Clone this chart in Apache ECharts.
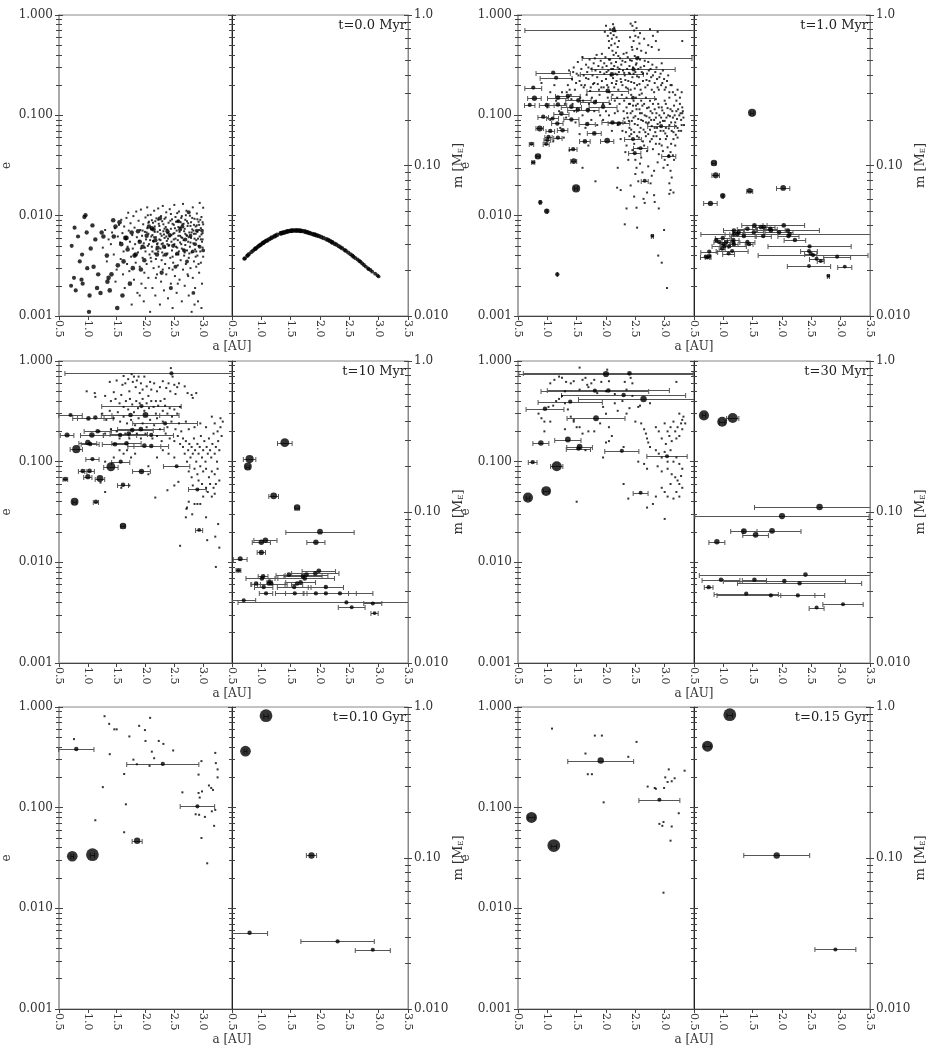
<!DOCTYPE html>
<html><head><meta charset="utf-8">
<script src="https://cdn.jsdelivr.net/npm/echarts@6/dist/echarts.min.js"></script>
<style>html,body{margin:0;padding:0;background:#fff}#c{width:931px;height:1048px}</style>
</head><body><div id="c"></div>
<script>
// ---------------- DATA ----------------
const TITLES = ['t=0.0 Myr','t=1.0 Myr','t=10 Myr','t=30 Myr','t=0.10 Gyr','t=0.15 Gyr'];
const A_MIN = 0.5, A_MAX = 3.5, A_STEP = 0.5;
const E_MIN = 0.001, E_MAX = 1, M_MIN = 0.01, M_MAX = 1;

// t = 0.0 Myr : embryos (a, e, m)
const P0_A = [0.71,0.72,0.76,0.77,0.79,0.83,0.86,0.89,0.90,0.91,0.94,0.96,0.98,0.99,1.02,1.03,1.05,1.08,1.10,1.13,1.16,1.18,1.22,1.24,1.27,1.33,1.34,1.36,1.38,1.41,1.44,1.45,1.48,1.51,1.52,1.55,1.58,1.60,1.62,1.65,1.67,1.69,1.73,1.76,1.78,1.81,1.83,1.87,1.90,1.92,1.95,1.98,2.02,2.06,2.11,2.14,2.17,2.20,2.21,2.25,2.28,2.32,2.35,2.38,2.42,2.44,2.48,2.52,2.55,2.57,2.60,2.64,2.67,2.69,2.72,2.75,2.78,2.82,2.83,2.86,2.89,2.94,2.98,3.00];
const P0_E = [0.0020,0.0050,0.0024,0.0076,0.0018,0.0062,0.0035,0.0023,0.0041,0.0021,0.0097,0.0101,0.0068,0.0030,0.0011,0.0016,0.0047,0.0080,0.0031,0.0058,0.0019,0.0026,0.0017,0.0068,0.0062,0.0040,0.0022,0.0024,0.0018,0.0026,0.0090,0.0062,0.0078,0.0012,0.0032,0.0086,0.0052,0.0016,0.0035,0.0060,0.0060,0.0046,0.0021,0.0068,0.0030,0.0040,0.0041,0.0070,0.0055,0.0029,0.0049,0.0036,0.0063,0.0078,0.0075,0.0073,0.0057,0.0041,0.0048,0.0094,0.0027,0.0049,0.0041,0.0070,0.0064,0.0019,0.0050,0.0031,0.0042,0.0088,0.0073,0.0078,0.0045,0.0058,0.0035,0.0108,0.0063,0.0044,0.0017,0.0052,0.0071,0.0049,0.0071,0.0045];
const P0_M = [0.0240,0.0242,0.0251,0.0253,0.0258,0.0266,0.0272,0.0278,0.0280,0.0282,0.0288,0.0292,0.0296,0.0298,0.0304,0.0306,0.0310,0.0315,0.0318,0.0323,0.0328,0.0332,0.0338,0.0341,0.0346,0.0354,0.0355,0.0357,0.0358,0.0361,0.0364,0.0365,0.0367,0.0368,0.0369,0.0370,0.0370,0.0370,0.0370,0.0369,0.0368,0.0367,0.0365,0.0362,0.0360,0.0357,0.0355,0.0351,0.0348,0.0346,0.0343,0.0340,0.0335,0.0330,0.0324,0.0320,0.0315,0.0310,0.0308,0.0302,0.0298,0.0291,0.0286,0.0281,0.0274,0.0271,0.0264,0.0257,0.0252,0.0248,0.0243,0.0237,0.0232,0.0229,0.0223,0.0218,0.0213,0.0207,0.0205,0.0202,0.0197,0.0191,0.0186,0.0183];
const P0_DUST = [[1.26,0.0048],[1.30,0.0072],[1.33,0.0035],[1.36,0.0058],[1.40,0.0052],[1.42,0.0068],[1.45,0.0041],[1.47,0.0075],[1.50,0.0029],[1.52,0.0062],[1.54,0.0081],[1.48,0.0022],
[1.56,0.0054],[1.57,0.0037],[1.58,0.0091],[1.60,0.0067],[1.61,0.0026],[1.62,0.0044],[1.63,0.0078],[1.64,0.0019],[1.66,0.0058],[1.67,0.0095],[1.68,0.0033],[1.69,0.0049],[1.70,0.0107],[1.71,0.0071],[1.72,0.0028],[1.73,0.0055],[1.74,0.0084],[1.75,0.0039],[1.76,0.0013],[1.77,0.0064],[1.78,0.0047],[1.79,0.0099],[1.80,0.0023],[1.81,0.0076],[1.82,0.0052],[1.83,0.0034],[1.84,0.0110],[1.85,0.0061],[1.86,0.0017],[1.87,0.0043],
[1.88,0.0089],[1.89,0.0056],[1.90,0.0031],[1.91,0.0072],[1.92,0.0047],[1.92,0.0115],[1.93,0.0021],[1.94,0.0063],[1.95,0.0038],[1.96,0.0082],[1.97,0.0053],[1.97,0.0014],[1.98,0.0027],[1.99,0.0069],[2.00,0.0096],[2.00,0.0044],[2.01,0.0058],[2.02,0.0033],[2.03,0.0121],[2.03,0.0075],[2.04,0.0050],[2.05,0.0024],[2.05,0.0066],[2.06,0.0087],[2.07,0.0041],[2.08,0.0011],[2.08,0.0057],[2.09,0.0102],[2.10,0.0035],[2.10,0.0073],[2.11,0.0049],[2.12,0.0019],[2.12,0.0064],[2.13,0.0085],[2.14,0.0030],[2.14,0.0055],[2.15,0.0112],[2.16,0.0042],[2.16,0.0078],[2.17,0.0016],[2.18,0.0061],[2.18,0.0037],[2.19,0.0094],[2.20,0.0052],[2.20,0.0026],
[2.21,0.0069],[2.22,0.0118],[2.22,0.0044],[2.23,0.0083],[2.23,0.0031],[2.24,0.0058],[2.25,0.0013],[2.25,0.0072],[2.26,0.0047],[2.27,0.0099],[2.27,0.0022],[2.28,0.0063],[2.28,0.0036],[2.29,0.0088],[2.30,0.0053],[2.30,0.0125],[2.31,0.0040],[2.31,0.0070],[2.32,0.0018],[2.33,0.0060],[2.33,0.0093],[2.34,0.0033],[2.34,0.0048],[2.35,0.0077],[2.36,0.0026],[2.36,0.0108],[2.37,0.0056],[2.38,0.0042],[2.38,0.0067],[2.39,0.0015],[2.40,0.0085],[2.40,0.0050],[2.41,0.0030],[2.42,0.0062],[2.42,0.0116],[2.43,0.0038],[2.44,0.0074],[2.44,0.0021],[2.45,0.0055],[2.46,0.0092],[2.46,0.0045],[2.47,0.0012],[2.48,0.0066],[2.48,0.0034],[2.49,0.0081],[2.50,0.0052],[2.50,0.0128],[2.51,0.0025],[2.52,0.0059],[2.52,0.0097],[2.53,0.0041],[2.54,0.0071],[2.54,0.0017],[2.55,0.0048],[2.56,0.0088],[2.56,0.0032],[2.57,0.0063],[2.58,0.0110],[2.58,0.0044],[2.59,0.0023],[2.60,0.0076],[2.60,0.0054],
[2.61,0.0036],[2.62,0.0095],[2.62,0.0061],[2.63,0.0014],[2.63,0.0047],[2.64,0.0082],[2.65,0.0029],[2.65,0.0131],[2.66,0.0057],[2.67,0.0040],[2.67,0.0070],[2.68,0.0020],[2.69,0.0091],[2.69,0.0051],[2.70,0.0033],[2.71,0.0064],[2.71,0.0112],[2.72,0.0045],[2.73,0.0026],[2.73,0.0079],[2.74,0.0055],[2.75,0.0016],[2.75,0.0038],[2.76,0.0068],[2.77,0.0100],[2.77,0.0049],[2.78,0.0030],[2.79,0.0060],[2.79,0.0086],[2.80,0.0011],[2.80,0.0043],[2.81,0.0073],[2.82,0.0024],[2.82,0.0121],[2.83,0.0053],[2.84,0.0035],[2.84,0.0066],[2.85,0.0093],[2.86,0.0046],[2.86,0.0019],[2.87,0.0078],[2.88,0.0057],[2.88,0.0031],[2.89,0.0105],[2.90,0.0040],[2.90,0.0069],[2.91,0.0014],[2.92,0.0050],[2.92,0.0087],[2.93,0.0027],[2.94,0.0062],[2.94,0.0134],[2.95,0.0044],[2.96,0.0075],[2.96,0.0034],[2.97,0.0097],[2.98,0.0055],[2.98,0.0021],[2.99,0.0067],[3.00,0.0039],[3.00,0.0082],[3.00,0.0120],[2.99,0.0048],[2.97,0.0012],
[2.02,0.0068],[2.06,0.0052],[2.11,0.0090],[2.15,0.0061],[2.19,0.0046],[2.24,0.0079],[2.26,0.0057],[2.29,0.0043],[2.32,0.0065],[2.35,0.0096],[2.37,0.0073],[2.41,0.0051],[2.43,0.0089],[2.45,0.0064],[2.47,0.0039],[2.49,0.0058],[2.51,0.0075],[2.53,0.0049],[2.55,0.0106],[2.57,0.0041],[2.59,0.0069],[2.61,0.0086],[2.64,0.0060],[2.66,0.0046],[2.68,0.0074],[2.70,0.0101],[2.72,0.0063],[2.74,0.0084],[2.76,0.0042],[2.78,0.0054],[2.81,0.0095],[2.83,0.0071],[2.85,0.0059],[2.87,0.0039],[2.89,0.0080],[2.91,0.0059],[2.93,0.0072],[2.95,0.0091],[2.97,0.0065],[2.99,0.0058],[1.95,0.0071],[1.99,0.0048],[2.04,0.0101],[2.09,0.0038],[2.13,0.0056],[2.17,0.0088],[2.21,0.0053],[2.31,0.0082],[2.39,0.0059],[2.57,0.0077],
[2.05,0.0085],[2.10,0.0062],[2.16,0.0069],[2.22,0.0091],[2.26,0.0066],[2.33,0.0074],[2.36,0.0062],[2.40,0.0068],[2.44,0.0104],[2.47,0.0083],[2.50,0.0067],[2.53,0.0087],[2.56,0.0057],[2.60,0.0063],[2.63,0.0099],[2.66,0.0083],[2.69,0.0066],[2.72,0.0088],[2.75,0.0061],[2.78,0.0079],[2.80,0.0068],[2.84,0.0081],[2.87,0.0066],[2.90,0.0092],[2.93,0.0081],[2.96,0.0058],[2.99,0.0086],[2.62,0.0052],[2.38,0.0052],[2.28,0.0052],[2.68,0.0043],[2.88,0.0044],[2.12,0.0044],[2.47,0.0029],[2.74,0.0025],[2.92,0.0033],[2.56,0.0021],[2.30,0.0029],[2.18,0.0024],[2.00,0.0019],[1.90,0.0016],[2.85,0.0013]];

// t = 1.0 Myr
const P1_A = [2.13,2.53,2.47,2.10,1.10,1.15,0.76,0.78,0.70,1.18,1.35,1.18,0.99,1.53,1.81,2.03,2.46,1.41,1.52,1.69,1.95,2.11,2.22,1.24,0.93,1.09,1.41,0.87,1.17,1.05,1.26,1.68,1.80,1.02,1.18,1.00,0.98,0.73,1.64,2.02,2.46,2.59,2.49,1.44,2.94,3.07,0.84,0.76,1.45,1.49,0.88,0.99,1.17,2.66,2.79];
const P1_E = [0.71,0.37,0.287,0.256,0.266,0.237,0.189,0.148,0.127,0.150,0.156,0.128,0.127,0.141,0.135,0.175,0.15,0.122,0.114,0.113,0.122,0.085,0.083,0.104,0.097,0.093,0.091,0.074,0.083,0.070,0.071,0.082,0.066,0.061,0.060,0.057,0.052,0.052,0.055,0.056,0.058,0.047,0.042,0.046,0.078,0.039,0.039,0.034,0.035,0.0187,0.0136,0.0111,0.0026,0.0223,0.0063];
const P1_M = [0.035,0.0254,0.029,0.037,0.029,0.027,0.0268,0.056,0.0248,0.037,0.034,0.035,0.033,0.040,0.037,0.040,0.0215,0.038,0.036,0.039,0.036,0.034,0.032,0.035,0.031,0.026,0.031,0.086,0.032,0.031,0.036,0.034,0.038,0.029,0.030,0.030,0.028,0.0245,0.039,0.071,0.027,0.024,0.026,0.030,0.0248,0.0213,0.104,0.025,0.068,0.224,0.032,0.063,0.031,0.0232,0.0185];
const P1_DUST = [[2.0,0.78],[2.03,0.62],[2.05,0.55],[2.07,0.72],[2.08,0.66],[2.10,0.58],[2.12,0.81],[2.13,0.63],[2.15,0.52],[2.16,0.69],[2.18,0.6],[2.2,0.48],[2.05,0.47],[2.11,0.44],[2.17,0.42],[2.22,0.55],[1.98,0.68],[2.14,0.75],[2.09,0.5],
[2.42,0.82],[2.45,0.78],[2.48,0.7],[2.5,0.62],[2.52,0.74],[2.47,0.55],[2.55,0.6],[2.57,0.52],[2.44,0.48],[2.53,0.46],[2.58,0.66],[2.6,0.44],[2.5,0.85],[2.41,0.6],
[2.75,0.72],[2.8,0.62],[2.85,0.55],[2.88,0.68],[2.72,0.5],[2.9,0.45],[2.78,0.48],[3.3,0.55],[2.65,0.58],[2.68,0.42],
[1.45,0.3],[1.5,0.26],[1.52,0.34],[1.55,0.22],[1.58,0.29],[1.6,0.38],[1.62,0.25],[1.64,0.2],[1.66,0.32],[1.68,0.27],[1.7,0.23],[1.72,0.36],[1.74,0.19],[1.75,0.29],[1.77,0.25],[1.79,0.33],[1.8,0.21],[1.82,0.28],[1.84,0.4],[1.85,0.24],[1.87,0.31],[1.88,0.18],[1.9,0.27],[1.91,0.35],[1.93,0.22],[1.94,0.3],[1.96,0.19],[1.97,0.26],[1.99,0.38],[2.0,0.23],[2.01,0.31],[2.02,0.2],[2.04,0.28],[2.05,0.36],[2.06,0.17],[2.08,0.25],[2.09,0.33],[2.1,0.21],[2.12,0.29],[2.13,0.4],[2.14,0.19],[2.16,0.26],[2.17,0.34],[2.18,0.22],[2.2,0.3],[2.21,0.18],[2.22,0.27],[2.24,0.37],[2.25,0.23],[2.26,0.32],[2.28,0.2],[2.29,0.28],[2.3,0.41],[2.32,0.25],[2.33,0.34],[2.34,0.19],[2.36,0.29],[2.37,0.38],[2.38,0.22],[2.4,0.31],[2.41,0.26],[2.42,0.18],[2.44,0.35],[2.45,0.24],[2.46,0.3],[2.48,0.21],[2.49,0.39],[2.5,0.27],[2.52,0.33],[2.53,0.2],[2.55,0.29],[2.56,0.24],[2.58,0.36],[2.59,0.18],[2.61,0.27],[2.63,0.22],[2.65,0.31],[2.67,0.19],[2.7,0.26],[2.72,0.34],[2.74,0.22],[2.76,0.29],[2.78,0.18],[2.8,0.25],[2.83,0.21],[2.86,0.3],[2.88,0.19],[2.91,0.24],[2.94,0.2],[2.97,0.28],[3.0,0.18],[3.04,0.22],[3.08,0.17],[3.12,0.2],[2.95,0.33],[1.35,0.2],[1.4,0.16],[1.42,0.23],[1.47,0.18],[1.3,0.13],[1.25,0.17],[1.56,0.15],[1.61,0.14],[1.67,0.16],[1.71,0.13],[1.76,0.15],[1.83,0.14],[1.89,0.16],[1.95,0.13],[2.03,0.15],[2.07,0.13],[2.11,0.16],[2.15,0.14],[2.19,0.15],[2.23,0.13],[2.27,0.16],[2.31,0.14],[2.35,0.15],[2.39,0.13],[2.43,0.16],[2.47,0.14],[2.51,0.15],[2.54,0.13],[2.57,0.16],[2.6,0.14],
[2.3,0.11],[2.32,0.085],[2.35,0.12],[2.37,0.095],[2.4,0.075],[2.42,0.105],[2.44,0.088],[2.46,0.125],[2.48,0.068],[2.5,0.098],[2.52,0.115],[2.54,0.08],[2.56,0.06],[2.58,0.105],[2.6,0.09],[2.62,0.125],[2.64,0.072],[2.66,0.1],[2.68,0.085],[2.7,0.118],[2.72,0.065],[2.74,0.095],[2.76,0.11],[2.78,0.078],[2.8,0.13],[2.82,0.09],[2.84,0.068],[2.86,0.105],[2.88,0.082],[2.9,0.12],[2.92,0.058],[2.94,0.095],[2.96,0.112],[2.98,0.07],[3.0,0.088],[3.02,0.13],[3.04,0.062],[3.06,0.1],[3.08,0.08],[3.1,0.115],[3.12,0.07],[3.14,0.095],[3.16,0.125],[3.18,0.085],[3.2,0.11],[3.22,0.075],[3.25,0.1],[3.28,0.09],[3.3,0.12],[3.32,0.095],[3.15,0.058],[3.05,0.048],[3.1,0.043],[2.95,0.05],[2.9,0.041],[2.85,0.052],[2.8,0.046],[2.75,0.055],[2.7,0.044],[2.65,0.05],[2.6,0.038],[2.55,0.047],[2.5,0.036],[2.45,0.045],[3.0,0.036],[3.05,0.032],[3.1,0.028],[3.12,0.024],[3.08,0.021],[3.1,0.018],[3.15,0.017],[2.98,0.03],[2.88,0.034],[2.82,0.028],[2.78,0.025],[2.72,0.031],[2.62,0.027],[2.58,0.033],[2.52,0.03],[2.4,0.062],[2.35,0.05],[2.28,0.07],[2.25,0.058],[2.2,0.08],[2.33,0.043],[2.38,0.036],[2.85,0.145],[2.75,0.14],[2.68,0.15],[3.0,0.14],[3.08,0.15],[3.2,0.14],[3.26,0.13],[3.3,0.105],[3.33,0.08],[3.28,0.07],[3.22,0.06],[3.18,0.05],[3.14,0.04],[3.02,0.075],[2.92,0.085],[2.83,0.075],[2.73,0.085],
[1.05,0.09],[1.1,0.055],[1.15,0.14],[1.2,0.11],[1.22,0.075],[1.28,0.06],[1.32,0.095],[1.38,0.045],[1.43,0.13],[1.48,0.085],[1.55,0.065],[1.6,0.1],[1.65,0.075],[1.7,0.05],[1.75,0.09],[1.8,0.11],[1.85,0.08],[1.9,0.1],[1.95,0.09],[2.0,0.11],[2.05,0.1],[2.1,0.07],[2.15,0.105],[2.2,0.11],[1.12,0.2],[1.05,0.17],[0.9,0.21],[1.0,0.12],[1.38,0.18],[1.46,0.11],
[2.32,0.0082],[2.35,0.0118],[2.52,0.012],[2.53,0.0076],[2.48,0.0155],[2.42,0.02],[2.64,0.0147],[2.66,0.0134],[2.82,0.016],[2.83,0.0137],[2.9,0.0118],[2.99,0.0072],[2.89,0.0040],[2.95,0.0034],[3.04,0.0019],[2.19,0.019],[1.82,0.022],[2.25,0.018],[2.7,0.017],[2.55,0.022],[3.08,0.0165],[2.76,0.021],[2.5,0.026],[2.2,0.03],[1.6,0.03],
[1.93,0.41],[1.97,0.33],[2.01,0.27],[2.04,0.19],[2.07,0.36],[2.09,0.29],[2.12,0.235],[2.14,0.31],[2.17,0.205],[2.19,0.255],[2.21,0.39],[2.23,0.29],[2.26,0.215],[2.28,0.35],[2.31,0.265],[2.33,0.225],[2.35,0.42],[2.37,0.185],[2.39,0.265],[2.41,0.355],[2.43,0.215],[2.45,0.45],[2.47,0.26],[2.49,0.185],[2.51,0.32],[2.53,0.245],[2.55,0.38],[2.57,0.205],[2.59,0.3],[2.61,0.165],[2.63,0.26],[2.66,0.35],[2.69,0.225],[2.71,0.2],[2.73,0.28],[2.77,0.24],[2.79,0.32],[2.82,0.17],[2.84,0.27],[2.87,0.23],[2.9,0.18],[2.93,0.26],[2.96,0.21],[2.99,0.23],[3.02,0.19],[3.06,0.25],[3.1,0.2],[3.14,0.17],[3.18,0.16],[3.22,0.18],[3.26,0.15],[3.29,0.17],
[2.31,0.093],[2.34,0.068],[2.36,0.105],[2.39,0.088],[2.41,0.13],[2.43,0.072],[2.45,0.11],[2.47,0.095],[2.49,0.082],[2.51,0.125],[2.53,0.062],[2.55,0.092],[2.57,0.115],[2.59,0.075],[2.61,0.105],[2.63,0.088],[2.65,0.13],[2.67,0.068],[2.69,0.098],[2.71,0.083],[2.73,0.12],[2.75,0.072],[2.77,0.09],[2.79,0.105],[2.81,0.062],[2.83,0.115],[2.85,0.095],[2.87,0.075],[2.89,0.13],[2.91,0.1],[2.93,0.07],[2.95,0.12],[2.97,0.088],[2.99,0.105],[3.01,0.066],[3.03,0.095],[3.05,0.118],[3.07,0.074],[3.09,0.098],[3.11,0.085],[3.13,0.11],[3.15,0.068],[3.17,0.1],[3.19,0.078],[3.21,0.092],[3.23,0.115],[3.24,0.07],[3.27,0.105],[3.29,0.08],[3.31,0.11],
[2.86,0.062],[2.91,0.052],[2.97,0.044],[3.02,0.058],[3.07,0.04],[3.11,0.052],[3.16,0.036],[3.19,0.064],[2.78,0.058],[2.68,0.062],[2.63,0.055],[2.57,0.068],[2.48,0.052],[2.43,0.065],
[1.62,0.19],[1.66,0.235],[1.7,0.3],[1.73,0.175],[1.78,0.205],[1.81,0.37],[1.86,0.205],[1.92,0.19],[1.58,0.2],[1.53,0.25],[1.49,0.21],[1.44,0.27],[1.41,0.145],[1.37,0.28],[1.33,0.17]];

// t = 10 Myr
const P2_A = [1.40,0.80,0.77,1.21,1.61,2.00,1.07,1.00,1.93,1.00,0.64,0.61,2.45,1.93,1.74,0.70,1.01,1.13,2.34,1.92,1.77,1.17,1.56,2.10,1.71,1.04,1.47,1.67,1.98,2.10,1.08,1.57,2.54,0.91,1.03,2.90,1.14,2.93,1.61];
const P2_E = [0.089,0.133,0.040,0.068,0.023,0.291,0.184,0.155,0.080,0.071,0.184,0.067,0.754,0.357,0.291,0.291,0.269,0.274,0.24,0.21,0.206,0.20,0.184,0.184,0.19,0.15,0.149,0.152,0.144,0.143,0.106,0.10,0.09,0.081,0.081,0.053,0.040,0.021,0.059];
const P2_M = [0.288,0.224,0.200,0.128,0.107,0.074,0.065,0.063,0.063,0.054,0.049,0.041,0.0252,0.0289,0.0363,0.026,0.0363,0.0336,0.0289,0.0392,0.0385,0.0336,0.0319,0.0289,0.0375,0.0319,0.0385,0.0343,0.0408,0.0319,0.0289,0.0289,0.0234,0.0336,0.0375,0.0248,0.0346,0.0214,0.0336];
const P2_DUST = [[1.38,0.62],[1.5,0.64],[1.45,0.49],[0.98,0.5],[1.12,0.48],[1.13,0.44],[1.6,0.58],[1.62,0.71],[1.65,0.6],[1.7,0.66],[1.72,0.5],[1.76,0.74],[1.78,0.62],[1.8,0.7],[1.83,0.55],[1.85,0.64],[1.88,0.7],[1.9,0.48],[1.92,0.6],[1.95,0.52],[1.98,0.7],[2.02,0.56],[2.05,0.45],[2.08,0.62],[2.1,0.52],[2.15,0.6],[2.18,0.4],[2.2,0.5],[2.25,0.55],[2.3,0.63],[2.33,0.42],[2.36,0.54],[2.4,0.6],[2.43,0.5],[2.44,0.85],[2.47,0.7],[2.5,0.58],[2.52,0.47],[2.55,0.55],[2.58,0.6],[2.68,0.56],[2.73,0.48],[2.82,0.43],[2.88,0.48],[2.8,0.46],
[1.3,0.45],[1.4,0.4],[1.48,0.42],[1.55,0.38],[1.58,0.46],[1.62,0.35],[1.66,0.4],[1.7,0.33],[1.73,0.42],[1.77,0.37],[1.8,0.31],[1.84,0.4],[1.87,0.34],[1.9,0.38],[1.95,0.42],[1.98,0.32],[2.02,0.38],[2.06,0.34],[2.1,0.4],[2.14,0.35],[2.18,0.3],[2.22,0.36],[2.26,0.4],[2.3,0.32],[2.34,0.36],[2.38,0.3],[2.42,0.34],[2.46,0.28],[2.5,0.33],[2.55,0.3],[2.6,0.35],[1.25,0.3],[1.32,0.26],[1.38,0.32],[1.45,0.27],[1.52,0.31],[1.56,0.25],[1.62,0.28],[1.68,0.24],[1.75,0.26],[1.82,0.23],[1.88,0.27],[1.95,0.24],[2.02,0.22],[2.08,0.26],[2.15,0.23],[2.2,0.27],[2.25,0.21],[2.3,0.25],[2.38,0.22],[2.45,0.25],[2.52,0.21],[2.58,0.24],[2.62,0.2],[1.2,0.2],[1.3,0.19],[1.4,0.21],[1.5,0.2],[1.55,0.17],[1.65,0.19],[1.72,0.17],[1.85,0.19],[1.92,0.17],[2.0,0.19],[2.12,0.17],[2.2,0.18],[2.28,0.16],[2.35,0.19],[2.42,0.17],[2.5,0.16],[2.56,0.18],[2.6,0.15],[2.65,0.17],
[1.3,0.1],[1.45,0.11],[1.55,0.13],[1.62,0.12],[1.68,0.13],[1.75,0.11],[1.82,0.12],[2.05,0.09],[2.2,0.11],[2.3,0.13],[2.4,0.12],[2.5,0.11],[1.3,0.05],[1.22,0.062],[1.58,0.055],[1.72,0.058],[2.05,0.075],[2.5,0.058],[2.57,0.063],[2.17,0.044],[2.38,0.052],[2.6,0.0146],
[2.65,0.14],[2.68,0.12],[2.7,0.16],[2.72,0.1],[2.74,0.13],[2.76,0.15],[2.78,0.11],[2.8,0.14],[2.82,0.12],[2.84,0.17],[2.86,0.13],[2.88,0.1],[2.9,0.15],[2.92,0.12],[2.94,0.14],[2.96,0.18],[2.98,0.11],[3.0,0.13],[3.02,0.16],[3.04,0.1],[3.06,0.14],[3.08,0.12],[3.1,0.17],[3.12,0.13],[3.14,0.11],[3.16,0.15],[3.18,0.19],[3.2,0.12],[3.22,0.14],[3.24,0.1],[3.26,0.16],[3.28,0.13],[3.3,0.22],[3.32,0.18],[3.34,0.25],[3.3,0.27],[3.25,0.2],[3.2,0.24],[3.15,0.28],[3.05,0.22],[2.95,0.24],[2.85,0.22],[2.75,0.21],[2.7,0.25],
[2.75,0.08],[2.8,0.07],[2.85,0.085],[2.9,0.075],[2.95,0.09],[3.0,0.08],[3.05,0.085],[3.1,0.07],[3.15,0.08],[3.2,0.075],[3.25,0.085],[3.28,0.065],[3.22,0.06],[3.18,0.055],[3.12,0.06],[3.05,0.055],[2.98,0.06],[2.92,0.065],[2.82,0.058],[3.15,0.045],[3.2,0.048],[3.08,0.05],[3.0,0.045],
[2.72,0.035],[2.7,0.028],[2.71,0.034],[2.75,0.04],[2.81,0.03],[2.85,0.038],[2.95,0.038],[3.05,0.028],[3.07,0.0166],[3.21,0.018],[3.26,0.024],[3.28,0.014],[3.22,0.009],[2.9,0.038]];

// t = 30 Myr
const P3_A = [2.00,2.40,1.81,2.04,2.30,1.39,2.64,0.96,1.83,1.35,1.55,1.53,0.89,2.27,3.04,0.75,1.16,0.98,0.67,2.59];
const P3_E = [0.743,0.754,0.507,0.51,0.46,0.394,0.42,0.336,0.27,0.166,0.141,0.135,0.153,0.128,0.113,0.099,0.090,0.051,0.044,0.049];
const P3_M = [0.094,0.0385,0.028,0.0349,0.0338,0.0288,0.108,0.0356,0.075,0.0746,0.0706,0.0356,0.0636,0.028,0.0245,0.0318,0.419,0.396,0.436,0.0233];
const P3_DUST = [[1.05,0.6],[1.12,0.65],[1.2,0.7],[1.25,0.68],[1.32,0.62],[1.4,0.6],[1.45,0.63],[1.55,0.86],[1.6,0.65],[1.65,0.68],[1.68,0.58],[1.75,0.6],[1.8,0.65],[1.92,0.62],[2.02,0.82],[2.05,0.63],[2.32,0.62],[2.42,0.68],[2.45,0.6],[3.2,0.62],[1.3,0.5],[1.55,0.52],[1.7,0.55],[1.85,0.48],[2.0,0.5],[2.15,0.47],[2.35,0.52],[2.45,0.45],[2.75,0.38],[2.55,0.35],
[0.85,0.3],[0.9,0.27],[0.95,0.25],[1.05,0.25],[1.02,0.35],[1.1,0.36],[1.15,0.4],[1.2,0.42],[1.25,0.45],[1.3,0.38],[1.35,0.33],[1.4,0.28],[1.45,0.26],[1.5,0.22],[1.55,0.22],[1.6,0.19],[1.7,0.2],[1.8,0.2],[1.9,0.24],[1.95,0.35],[2.0,0.3],[2.05,0.22],[2.1,0.18],[2.2,0.32],[2.28,0.4],[2.35,0.3],[2.4,0.34],[2.5,0.25],[2.6,0.24],[2.65,0.21],[2.68,0.19],[2.7,0.17],[2.72,0.155],[2.75,0.14],[2.05,0.16],[1.65,0.13],[2.3,0.14],[2.0,0.155],[1.45,0.25],[1.3,0.21],[0.95,0.2],[2.15,0.38],[2.58,0.36],
[2.85,0.22],[2.9,0.2],[2.95,0.17],[3.0,0.24],[3.02,0.15],[3.05,0.2],[3.08,0.18],[3.1,0.22],[3.12,0.16],[3.15,0.25],[3.18,0.2],[3.2,0.17],[3.22,0.22],[3.25,0.18],[3.28,0.24],[3.3,0.26],[3.32,0.28],[3.35,0.24],[3.3,0.21],[3.25,0.3],[2.85,0.13],[2.9,0.12],[2.95,0.11],[3.0,0.125],[3.05,0.1],[3.1,0.13],[3.15,0.1],[3.2,0.11],[3.25,0.095],[3.3,0.085],[2.88,0.09],[2.95,0.08],[3.05,0.085],[3.12,0.075],[3.18,0.07],[3.22,0.065],[3.28,0.072],[3.25,0.06],[3.3,0.055],[3.2,0.05],[3.1,0.06],[3.0,0.05],[3.05,0.045],[3.15,0.043],[3.25,0.045],[2.95,0.055],[2.85,0.045],[2.7,0.085],[2.65,0.095],[2.55,0.1],[2.3,0.06],[2.38,0.043],[2.7,0.035],[3.0,0.027],[2.8,0.038],[1.5,0.04],[1.95,0.11]];

// t = 0.10 Gyr
const P4_A = [0.73,1.08,1.855,0.80,2.30,2.90];
const P4_E = [0.0329,0.0341,0.047,0.383,0.272,0.103];
const P4_M = [0.51,0.876,0.104,0.032,0.028,0.0247];
const P4_DUST = [[1.29,0.81],[1.37,0.68],[1.46,0.6],[1.50,0.6],[0.76,0.48],[1.72,0.51],[1.89,0.65],[2.08,0.78],[1.99,0.59],[2.0,0.46],[2.23,0.46],[2.31,0.43],[2.11,0.36],[2.48,0.37],[1.38,0.34],[1.79,0.30],[1.85,0.27],[2.15,0.31],[2.07,0.26],[1.63,0.216],[1.26,0.16],[1.66,0.108],[1.13,0.075],[1.63,0.057],[2.64,0.142],[2.92,0.213],[2.97,0.29],[3.21,0.35],[3.25,0.24],[3.25,0.2],[2.92,0.14],[2.94,0.126],[2.98,0.145],[3.1,0.166],[3.14,0.157],[3.17,0.15],[2.87,0.086],[2.93,0.085],[3.03,0.081],[3.15,0.092],[3.21,0.095],[3.19,0.066],[2.97,0.05],[3.07,0.028],[3.22,0.277]];

// t = 0.15 Gyr
const P5_A = [0.73,1.11,1.91,2.91];
const P5_E = [0.080,0.042,0.294,0.12];
const P5_M = [0.55,0.889,0.104,0.0248];
const P5_DUST = [[1.08,0.61],[1.81,0.52],[1.93,0.52],[2.52,0.45],[1.65,0.345],[2.38,0.32],[1.69,0.215],[1.76,0.215],[1.96,0.113],[2.71,0.162],[2.83,0.157],[2.99,0.157],[3.07,0.24],[3.01,0.2],[3.05,0.18],[3.12,0.183],[3.17,0.196],[3.34,0.233],[2.91,0.069],[2.98,0.072],[2.96,0.066],[3.12,0.065],[3.24,0.088],[3.1,0.047],[2.98,0.0143],[2.85,0.154]];

// ---------------- BUILD ----------------
const PANELS = [
  {a:P0_A,e:P0_E,m:P0_M,dust:P0_DUST,bars:false},
  {a:P1_A,e:P1_E,m:P1_M,dust:P1_DUST,bars:true},
  {a:P2_A,e:P2_E,m:P2_M,dust:P2_DUST,bars:true},
  {a:P3_A,e:P3_E,m:P3_M,dust:P3_DUST,bars:true},
  {a:P4_A,e:P4_E,m:P4_M,dust:P4_DUST,bars:true},
  {a:P5_A,e:P5_E,m:P5_M,dust:P5_DUST,bars:true}
];
const COL_X = [57, 518];
const ROW_Y = [15, 361, 707];
const ROW_H = [301, 302, 302];
const FONT = 'DejaVu Serif';
const TICK = '#444';

function sizeFromM(m){ return Math.max(3.6, 13*Math.cbrt(m) + 0.3); }
function barRender(params, api){
  const a = api.value(0), y = api.value(1), e = api.value(2);
  const p1 = api.coord([a*(1-e), y]), p2 = api.coord([a*(1+e), y]);
  const yy = Math.round(p1[1]) + 0.5, c = 2.5;
  const st = {stroke:'#555', lineWidth:1};
  return {type:'group', children:[
    {type:'line', shape:{x1:p1[0],y1:yy,x2:p2[0],y2:yy}, style:st},
    {type:'line', shape:{x1:p1[0],y1:yy-c,x2:p1[0],y2:yy+c}, style:st},
    {type:'line', shape:{x1:p2[0],y1:yy-c,x2:p2[0],y2:yy+c}, style:st}
  ]};
}
const eFmt = v => Math.pow(10, Math.round(Math.log10(v))).toFixed(3);
const mFmt = v => { const k=Math.round(Math.log10(v)); return k===0?'1.0':(k===-1?'0.10':'0.010'); };

// log y axis carrying major + minor ticks (minor ticks at 2..9 x 10^k)
function logAxis(grid, lo, hi, position, inside, extra){
  return Object.assign({type:'log', logBase:10, gridIndex:grid, min:lo, max:hi, position:position,
    axisLine:{show:false}, splitLine:{show:false}, axisLabel:{show:false},
    axisTick:{show:true, inside:inside, length:4, lineStyle:{color:TICK, width:1}},
    minorTick:{show:true, splitNumber:9, length:3, lineStyle:{color:TICK, width:1}}}, extra || {});
}

const grids=[], xAxes=[], yAxes=[], series=[], graphics=[];
PANELS.forEach((P, i) => {
  const row = Math.floor(i/2), col = i%2;
  const top = ROW_Y[row], h = ROW_H[row];
  const lx = COL_X[col], lw = col===0 ? 175 : 176, rw = 176;
  const gL = 2*i, gR = 2*i+1;
  const base = 6*i, yE = base, yM = base + 4;
  grids.push({left:lx, top:top, width:lw, height:h, show:true, borderColor:'#888', borderWidth:1});
  grids.push({left:lx+lw, top:top, width:rw, height:h, show:true, borderColor:'#888', borderWidth:1});
  [gL, gR].forEach((g, k) => {
    xAxes.push({type:'value', gridIndex:g, min:A_MIN, max:A_MAX, interval:A_STEP,
      axisLine:{lineStyle:{color:'#444'}}, axisTick:{show:true, length:4, lineStyle:{color:'#444'}},
      splitLine:{show:false},
      axisLabel:{rotate:-90, margin:4, fontFamily:FONT, fontSize:11, color:'#333',
        formatter: v => (k===0 && v>=A_MAX-1e-9) ? '' : v.toFixed(1)}});
  });
  // e axis, left edge (labelled, ticks outward) + inward copy
  yAxes.push(logAxis(gL, E_MIN, E_MAX, 'left', false, {
    name:'e', nameLocation:'middle', nameGap:46, nameRotate:90,
    nameTextStyle:{fontFamily:FONT, fontSize:12, color:'#333'},
    axisLine:{show:true, lineStyle:{color:'#aaa', width:2}},
    axisLabel:{show:true, fontFamily:FONT, fontSize:12, color:'#333', margin:6, formatter:eFmt}}));
  yAxes.push(logAxis(gL, E_MIN, E_MAX, 'left', true));
  // e ticks on the middle divider, both sides
  yAxes.push(logAxis(gL, E_MIN, E_MAX, 'right', false, {axisLine:{show:true, lineStyle:{color:'#222', width:1}}}));
  yAxes.push(logAxis(gL, E_MIN, E_MAX, 'right', true));
  // m axis, right edge (labelled) + inward copy
  yAxes.push(logAxis(gR, M_MIN, M_MAX, 'right', false, {
    name:'m [M{s|E}]', nameLocation:'middle', nameGap:44, nameRotate:90,
    nameTextStyle:{fontFamily:FONT, fontSize:13, color:'#333', rich:{s:{fontFamily:FONT, fontSize:7, color:'#333', padding:[5,0,0,0]}}},
    axisLine:{show:true, lineStyle:{color:'#888', width:1}},
    axisLabel:{show:true, fontFamily:FONT, fontSize:12, color:'#333', margin:6, formatter:mFmt}}));
  yAxes.push(logAxis(gR, M_MIN, M_MAX, 'right', true));

  series.push({type:'scatter', xAxisIndex:gL, yAxisIndex:yE, data:P.dust, symbol:'rect', symbolSize:2,
    itemStyle:{color:'#000'}, silent:true, z:3, clip:true});
  const leftData = P.a.map((a, j) => [a, P.e[j], P.m[j]]);
  const leftBar = P.a.map((a, j) => [a, P.e[j], P.e[j]]);
  const rightData = P.a.map((a, j) => [a, P.m[j], P.m[j]]);
  const rightBar = P.a.map((a, j) => [a, P.m[j], P.e[j]]);
  if (P.bars) {
    series.push({type:'custom', xAxisIndex:gL, yAxisIndex:yE, data:leftBar, encode:{x:0,y:1}, renderItem:barRender, clip:true, silent:true, z:2});
    series.push({type:'custom', xAxisIndex:gR, yAxisIndex:yM, data:rightBar, encode:{x:0,y:1}, renderItem:barRender, clip:true, silent:true, z:2});
  }
  series.push({type:'scatter', xAxisIndex:gL, yAxisIndex:yE, data:leftData, symbolSize:v => sizeFromM(v[2]),
    itemStyle:{color:'#000'}, silent:true, z:4, clip:true});
  series.push({type:'scatter', xAxisIndex:gR, yAxisIndex:yM, data:rightData, symbolSize:v => sizeFromM(v[2]),
    itemStyle:{color:'#000'}, silent:true, z:4, clip:true});

  graphics.push({type:'text', x:lx+lw+rw-2, y:top+4, z:10,
    style:{text:TITLES[i], font:'13px "'+FONT+'"', fill:'#222', align:'right', textAlign:'right', verticalAlign:'top', textVerticalAlign:'top'}});
  graphics.push({type:'text', x:lx+lw, y:top+h+31, z:10,
    style:{text:'a [AU]', font:'12px "'+FONT+'"', fill:'#333', align:'center', textAlign:'center', verticalAlign:'middle', textVerticalAlign:'middle'}});
});

const chart = echarts.init(document.getElementById('c'));
chart.setOption({animation:false, grid:grids, xAxis:xAxes, yAxis:yAxes, series:series, graphic:graphics});
</script></body></html>
